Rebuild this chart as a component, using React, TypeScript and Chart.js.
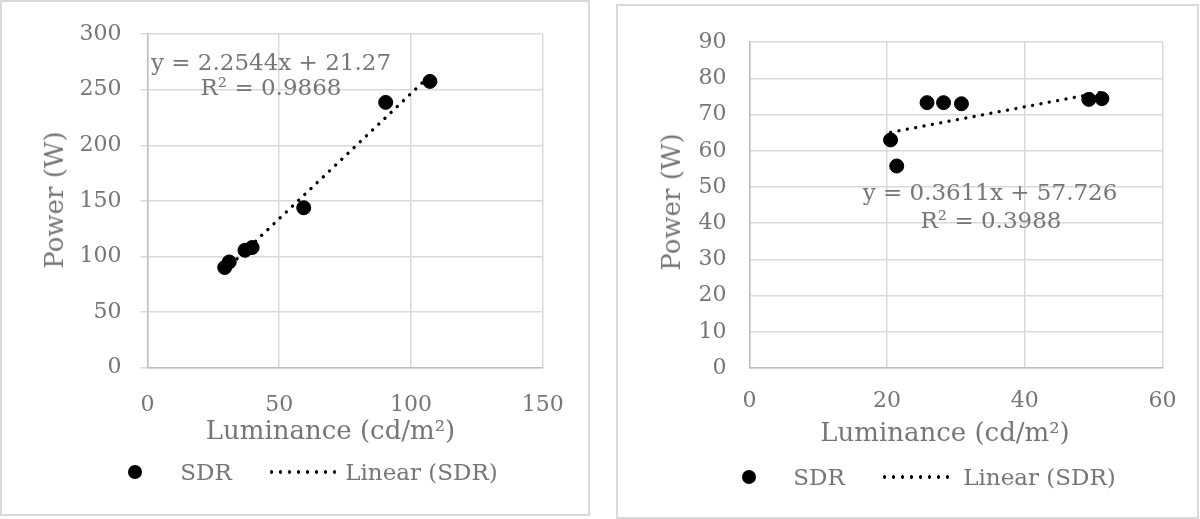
import React, { useEffect, useRef } from 'react';
import { Chart, registerables } from 'chart.js';

Chart.register(...registerables);

const FONT = '"DejaVu Serif", Georgia, serif';
const TEXT = '#767676';
const GRID = '#d9d9d9';
const AXIS = '#bfbfbf';

// left panel: luminance (cd/m²) vs power (W)
const leftLum = [29.3, 31.0, 37.0, 39.7, 59.3, 90.4, 107.2];
const leftPower = [90, 95, 105.5, 108, 143.8, 238.6, 257.5];
const leftTrendLum = [29.3, 107.2];
const leftTrendPower = [87.3, 262.9];
const leftXTicks = [0, 50, 100, 150];
const leftYTicks = [0, 50, 100, 150, 200, 250, 300];

// right panel
const rightLum = [20.5, 21.4, 25.8, 28.2, 30.8, 49.3, 51.2];
const rightPower = [63.0, 55.8, 73.3, 73.3, 73.0, 74.2, 74.4];
const rightTrendLum = [20.5, 51.2];
const rightTrendPower = [65.1, 76.2];
const rightXTicks = [0, 20, 40, 60];
const rightYTicks = [0, 10, 20, 30, 40, 50, 60, 70, 80, 90];

interface PanelProps {
  lum: number[];
  power: number[];
  trendLum: number[];
  trendPower: number[];
  xTicks: number[];
  yTicks: number[];
  width: number;
  height: number;
  padTop: number;
  padRight: number;
  yAxisWidth: number;
  xAxisHeight: number;
  yTickLen: number;
  yTickPad: number;
  xTickPad: number;
}

const ScatterPanel: React.FC<PanelProps> = (p) => {
  const canvasRef = useRef<HTMLCanvasElement>(null);

  useEffect(() => {
    if (!canvasRef.current) return;
    const chart = new Chart(canvasRef.current, {
      type: 'scatter',
      data: {
        datasets: [
          {
            type: 'scatter',
            label: 'SDR',
            data: p.lum.map((x, i) => ({ x, y: p.power[i] })),
            backgroundColor: '#000',
            borderColor: '#000',
            pointRadius: 7,
            pointHoverRadius: 7,
          },
          {
            type: 'line',
            label: 'Linear (SDR)',
            data: p.trendLum.map((x, i) => ({ x, y: p.trendPower[i] })),
            borderColor: '#000',
            borderWidth: 3.3,
            borderDash: [0.1, 8.4],
            borderCapStyle: 'round',
            pointRadius: 0,
            showLine: true,
            fill: false,
          },
        ],
      },
      options: {
        animation: false,
        responsive: true,
        maintainAspectRatio: false,
        layout: { padding: { top: p.padTop, right: p.padRight, bottom: 0, left: 0 } },
        plugins: { legend: { display: false }, tooltip: { enabled: false } },
        scales: {
          x: {
            type: 'linear',
            min: p.xTicks[0],
            max: p.xTicks[p.xTicks.length - 1],
            afterBuildTicks: (s: any) => { s.ticks = p.xTicks.map((v) => ({ value: v })); },
            afterFit: (s: any) => { s.height = p.xAxisHeight; },
            grid: { color: GRID, lineWidth: 1.5, drawTicks: false },
            border: { color: AXIS, width: 1.5 },
            ticks: { padding: p.xTickPad, color: TEXT, font: { family: FONT, size: 22 } },
          },
          y: {
            type: 'linear',
            min: p.yTicks[0],
            max: p.yTicks[p.yTicks.length - 1],
            afterBuildTicks: (s: any) => { s.ticks = p.yTicks.map((v) => ({ value: v })); },
            afterFit: (s: any) => { s.width = p.yAxisWidth; },
            grid: { color: GRID, lineWidth: 1.5, drawTicks: p.yTickLen > 0, tickLength: p.yTickLen },
            border: { color: AXIS, width: 1.5 },
            ticks: { padding: p.yTickPad, color: TEXT, font: { family: FONT, size: 22 } },
          },
        },
      },
    });
    return () => chart.destroy();
  }, []);

  return (
    <div style={{ position: 'absolute', left: 0, top: 0, width: p.width, height: p.height }}>
      <canvas ref={canvasRef} />
    </div>
  );
};

const Text: React.FC<{ x: number; y: number; size: number; rotate?: boolean; children: React.ReactNode }> = ({ x, y, size, rotate, children }) => (
  <div
    style={{
      position: 'absolute',
      left: x,
      top: y,
      transform: `translate(-50%, -50%)${rotate ? ' rotate(-90deg)' : ''}`,
      fontFamily: FONT,
      fontSize: size,
      lineHeight: 1,
      color: TEXT,
      whiteSpace: 'nowrap',
    }}
  >
    {children}
  </div>
);

const Legend: React.FC<{ dotX: number; sdrX: number; lineX1: number; lineX2: number; linX: number; y: number }> = (l) => (
  <>
    <div style={{ position: 'absolute', left: l.dotX - 7, top: l.y - 7, width: 14, height: 14, borderRadius: 7, background: '#000' }} />
    <Text x={l.sdrX} y={l.y} size={23}>SDR</Text>
    <div
      style={{
        position: 'absolute',
        left: l.lineX1,
        top: l.y - 2,
        width: l.lineX2 - l.lineX1,
        height: 4,
        background: 'radial-gradient(circle, #000 1.5px, transparent 2px) 0 0 / 9px 4px repeat-x',
      }}
    />
    <Text x={l.linX} y={l.y} size={23}>Linear (SDR)</Text>
  </>
);

const boxStyle = (left: number, top: number, width: number, height: number): React.CSSProperties => ({
  position: 'absolute',
  left,
  top,
  width,
  height,
  boxSizing: 'border-box',
  border: `2px solid ${GRID}`,
  background: '#fff',
});

export default function App() {
  return (
    <div style={{ position: 'absolute', left: 0, top: 0, width: 1200, height: 519, background: '#fff', overflow: 'hidden' }}>
      <div style={boxStyle(0, 0, 590, 516)}>
        <ScatterPanel
          lum={leftLum}
          power={leftPower}
          trendLum={leftTrendLum}
          trendPower={leftTrendPower}
          xTicks={leftXTicks}
          yTicks={leftYTicks}
          width={586}
          height={512}
          padTop={31.3}
          padRight={38}
          yAxisWidth={145.5}
          xAxisHeight={146.5}
          yTickLen={7}
          yTickPad={19}
          xTickPad={24.3}
        />
      </div>
      <div style={boxStyle(616, 4, 583, 515)}>
        <ScatterPanel
          lum={rightLum}
          power={rightPower}
          trendLum={rightTrendLum}
          trendPower={rightTrendPower}
          xTicks={rightXTicks}
          yTicks={rightYTicks}
          width={579}
          height={511}
          padTop={31.7}
          padRight={31}
          yAxisWidth={131.4}
          xAxisHeight={149}
          yTickLen={0}
          yTickPad={23}
          xTickPad={20.5}
        />
      </div>

      <Text x={54} y={200} size={26} rotate>Power (W)</Text>
      <Text x={330.5} y={430} size={26}>Luminance (cd/m²)</Text>
      <Text x={271} y={61.7} size={23}>y = 2.2544x + 21.27</Text>
      <Text x={271} y={86.7} size={23}>R² = 0.9868</Text>
      <Legend dotX={135} sdrX={206} lineX1={267} lineX2={340} linX={421.5} y={472} />

      <Text x={671} y={202} size={26} rotate>Power (W)</Text>
      <Text x={945} y={432} size={26}>Luminance (cd/m²)</Text>
      <Text x={990} y={191.7} size={23}>y = 0.3611x + 57.726</Text>
      <Text x={991} y={220} size={23}>R² = 0.3988</Text>
      <Legend dotX={748.7} sdrX={819} lineX1={880} lineX2={953} linX={1039.5} y={476.7} />
    </div>
  );
}
